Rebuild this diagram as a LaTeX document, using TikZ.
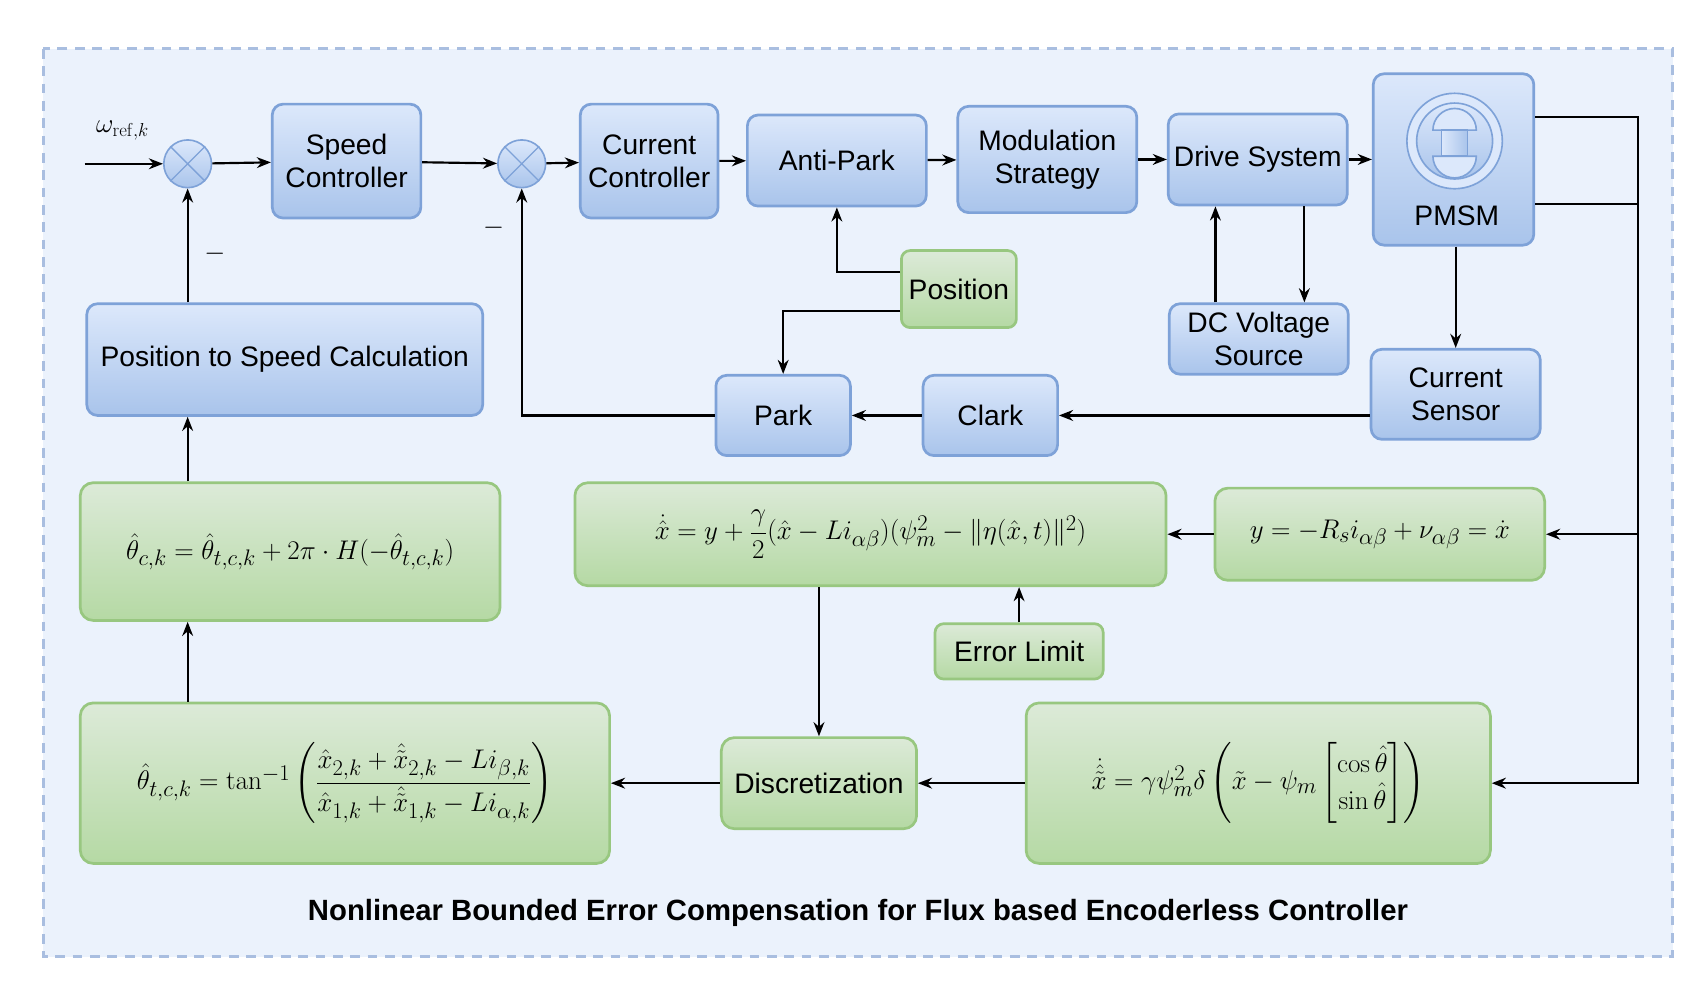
\documentclass[tikz,border=0pt]{standalone}
\usepackage{amsmath}
\usepackage[no-math]{fontspec}
\setmainfont{Liberation Sans}
\usetikzlibrary{positioning,arrows.meta}
\tikzset{>={Stealth[length=13pt,width=10pt]}}
\definecolor{bgblue}{HTML}{EBF2FC}
\definecolor{dashblue}{HTML}{A9BEE0}
\definecolor{bltop}{HTML}{DCE8FB}
\definecolor{blbot}{HTML}{A9C4EB}
\definecolor{blline}{HTML}{7EA2D8}
\definecolor{grtop}{HTML}{DCEAD8}
\definecolor{grbot}{HTML}{B5D9A4}
\definecolor{grline}{HTML}{98C780}
\tikzset{
  blk/.style={draw=blline,line width=2.5pt,rounded corners=10pt,top color=bltop,bottom color=blbot,align=center,inner sep=0pt},
  gblk/.style={draw=grline,line width=2.5pt,rounded corners=12pt,top color=grtop,bottom color=grbot,align=center,inner sep=0pt},
  sum/.style={circle,draw=blline,line width=1.5pt,top color=bltop,bottom color=blbot,minimum size=44pt,inner sep=0pt},
  wire/.style={line width=2pt,->},
  sz/.style 2 args={minimum width=#1pt,minimum height=#2pt},
  eq/.style={font=\fontsize{29}{34}\selectfont},
}
\begin{document}
\begin{tikzpicture}[x=1pt,y=-1pt,font=\fontsize{26}{30}\selectfont]
\useasboundingbox (0,0) rectangle (1570,924);
\draw[dashblue,fill=bgblue,line width=2.5pt,dash pattern=on 9pt off 7pt] (40,45) rectangle (1542,882);

% top row
\node[sum] (sum1) at (173,151) {};
\node[sum] (sum2) at (481,151) {};
\foreach \s in {sum1,sum2}{
  \draw[blline,line width=1.2pt] (\s.north east) -- (\s.south west) (\s.north west) -- (\s.south east);
}
\node[blk,sz={137}{105}] (speed) at (319.5,148.5) {Speed\\Controller};
\node[blk,sz={127}{105}] (cur) at (598.5,148.5) {Current\\Controller};
\node[blk,sz={165}{84}] (anti) at (771.5,148) {Anti-Park};
\node[blk,sz={165}{98}] (mod) at (965.5,147) {Modulation\\Strategy};
\node[blk,sz={165}{84}] (drive) at (1159.5,147) {Drive System};
\node[blk,sz={148}{158}] (pmsm) at (1340,147) {};
\node (pmsmlbl) at (1343,199) {PMSM};
% motor icon
\draw[blline,line width=1.5pt,fill=bltop] (1341,130) circle[radius=44];
\draw[blline,line width=1.5pt,top color=bltop,bottom color=blbot] (1341,130) circle[radius=35];
\draw[blline,line width=1.5pt,fill=bltop] (1321,120) -- (1361,120) arc[start angle=0,end angle=-180,radius=20] -- cycle;
\draw[blline,line width=1.5pt,fill=bltop] (1321,144) -- (1361,144) arc[start angle=0,end angle=180,radius=20] -- cycle;
\draw[blline,line width=1.5pt,left color=bltop,right color=blbot] (1329,120) rectangle (1353,144);

% middle row
\node[blk,sz={165}{65}] (dc) at (1160.5,312.5) {DC Voltage\\Source};
\node[blk,sz={156}{83}] (sens) at (1342,363.5) {Current\\Sensor};
\node[blk,sz={124}{74}] (clark) at (913,383) {Clark};
\node[blk,sz={124}{74}] (park) at (722,383) {Park};
\node[blk,sz={365}{103}] (p2s) at (262.5,331.5) {Position to Speed Calculation};
\node[gblk,rounded corners=8pt,sz={106}{71}] (pos) at (884,266.5) {Position};

% observer
\node[gblk,eq,sz={387}{127}] (thc) at (267.5,508.5)
  {$\hat{\theta}_{c,k}=\hat{\theta}_{t,c,k}+2\pi\cdot H(-\hat{\theta}_{t,c,k})$};
\node[gblk,eq,sz={545}{95}] (xdot) at (802.5,492.5)
  {$\dot{\hat{x}}=y+\dfrac{\gamma}{2}(\hat{x}-Li_{\alpha\beta})(\psi_m^2-\|\eta(\hat{x},t)\|^2)$};
\node[gblk,eq,sz={304}{85}] (yeq) at (1272,492.5)
  {$y=-R_si_{\alpha\beta}+\nu_{\alpha\beta}=\dot{x}$};
\node[gblk,rounded corners=8pt,sz={155}{51}] (err) at (939.5,600.5) {Error Limit};
\node[gblk,font=\fontsize{30}{35}\selectfont,sz={488}{148}] (tht) at (318,722)
  {$\hat{\theta}_{t,c,k}=\tan^{-1}\left(\dfrac{\hat{x}_{2,k}+\hat{\tilde{x}}_{2,k}-Li_{\beta,k}}{\hat{x}_{1,k}+\hat{\tilde{x}}_{1,k}-Li_{\alpha,k}}\right)$};
\node[gblk,sz={180}{84}] (disc) at (755,722) {Discretization};
\node[gblk,eq,sz={428}{148}] (xtil) at (1160,722)
  {$\dot{\hat{\tilde{x}}}=\gamma\psi_m^2\delta\left(\tilde{x}-\psi_m\begin{bmatrix}\cos\hat{\theta}\\ \sin\hat{\theta}\end{bmatrix}\right)$};

\node[font=\fontsize{27}{32}\selectfont\bfseries] (title) at (791,842)
  {Nonlinear Bounded Error Compensation for Flux based Encoderless Controller};

% signal labels
\coordinate (wref) at (78,151);
\node (wlbl) at (113,120) {$\omega_{\mathrm{ref},k}$};
\node (m1) at (198,234) {$-$};
\node (m2) at (455,210) {$-$};
\coordinate (bus1) at (1510,108);
\coordinate (bus2) at (1510,188);

% connectors
\draw[wire] (wref) -- (sum1);
\draw[wire] (sum1) -- (speed);
\draw[wire] (speed) -- (sum2);
\draw[wire] (sum2) -- (cur);
\draw[wire] (cur) -- (anti);
\draw[wire] (anti) -- (mod);
\draw[wire] (mod) -- (drive);
\draw[wire] (drive) -- (pmsm);
\draw[wire] (p2s.north -| sum1) -- (sum1);
\draw[wire] (park.west) -| (sum2.south);
\draw[wire] ([yshift=16pt]pos.west) -| (anti.south);
\draw[wire] ([yshift=-20pt]pos.west) -| (park.north);
\draw[wire] ([xshift=-40pt]dc.north) -- ([xshift=-40pt]dc.north |- drive.south);
\draw[wire] ([xshift=43pt]drive.south) -- ([xshift=43pt]drive.south |- dc.north);
\draw[wire] (pmsm.south -| sens) -- (sens.north);
\draw[wire] (sens.west |- clark.east) -- (clark.east);
\draw[wire] (clark.west) -- (park.east);
\draw[wire] ([yshift=39pt]pmsm.east) -- (bus1) |- (xtil.east);
\draw[wire] ([yshift=-41pt]pmsm.east) -- (bus2) |- (yeq.east);
\draw[wire] (yeq.west) -- (xdot.east);
\draw[wire] (err.north) -- (err.north |- xdot.south);
\draw[wire] (xdot.south -| disc.north) -- (disc.north);
\draw[wire] (xtil.west) -- (disc.east);
\draw[wire] (disc.west) -- (tht.east);
\draw[wire] (tht.north -| sum1) -- (thc.south -| sum1);
\draw[wire] (thc.north -| sum1) -- (p2s.south -| sum1);
\end{tikzpicture}
\end{document}
